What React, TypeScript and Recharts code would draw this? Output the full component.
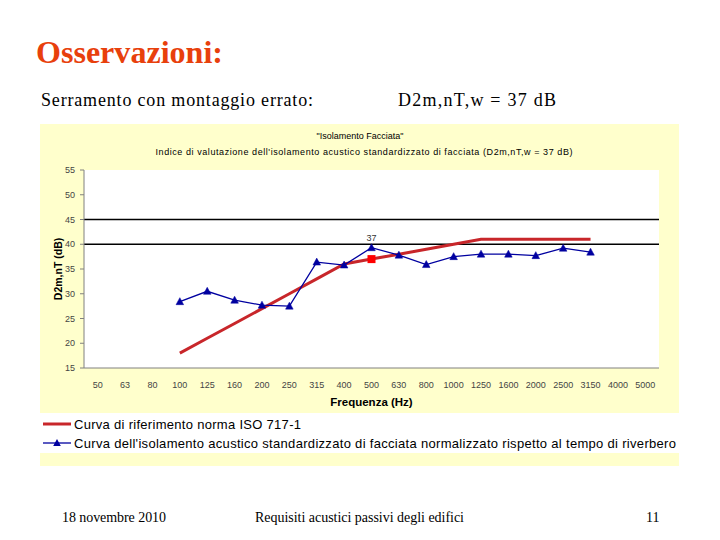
import React from 'react';
import {
  ComposedChart,
  Line,
  XAxis,
  YAxis,
  ReferenceLine,
  CartesianGrid,
  LabelList,
} from 'recharts';

// ---- Data ----
const frequencies = ['50', '63', '80', '100', '125', '160', '200', '250', '315', '400', '500', '630', '800', '1000', '1250', '1600', '2000', '2500', '3150', '4000', '5000'];
const referenceCurve = [null, null, null, 18, 21, 24, 27, 30, 33, 36, 37, 38, 39, 40, 41, 41, 41, 41, 41, null, null];
const measuredCurve = [null, null, null, 28.4, 30.5, 28.7, 27.7, 27.5, 36.4, 35.8, 39.3, 37.8, 35.9, 37.5, 38.0, 38.0, 37.7, 39.2, 38.4, null, null];
const ratingMarker = [null, null, null, null, null, null, null, null, null, null, 37, null, null, null, null, null, null, null, null, null, null];
const yTicks = [15, 20, 25, 30, 35, 40, 45, 50, 55];
const horizontalLines = [40, 45];

const data = frequencies.map((f, i) => ({
  freq: f,
  ref: referenceCurve[i],
  meas: measuredCurve[i],
  mark: ratingMarker[i],
}));

const BLUE = '#0000A0';
const RED = '#C8262A';

const TriangleDot = (props: any) => {
  const { cx, cy, value } = props;
  if (value == null || cx == null || cy == null) return null;
  return (
    <polygon
      key={`t-${cx}`}
      points={`${cx},${cy - 4} ${cx - 3.8},${cy + 3} ${cx + 3.8},${cy + 3}`}
      fill={BLUE}
      stroke={BLUE}
      strokeWidth={0.5}
    />
  );
};

const SquareDot = (props: any) => {
  const { cx, cy, value } = props;
  if (value == null || cx == null || cy == null) return null;
  return <rect key={`s-${cx}`} x={cx - 4} y={cy - 4} width={8} height={8} fill="#FF0000" />;
};

const tickStyle = { fontSize: 9, fill: '#444', fontFamily: 'Arial, "Liberation Sans", sans-serif' };

export default function App() {
  return (
    <div style={{ position: 'absolute', left: 0, top: 0, width: 720, height: 540, background: '#fff', overflow: 'hidden' }}>
      {/* Chart box */}
      <div style={{ position: 'absolute', left: 40, top: 124, width: 639, height: 342, background: '#FFFFCC' }}>
        <ComposedChart
          width={639}
          height={342}
          data={data}
          margin={{ top: 46, right: 20, left: 14, bottom: 58 }}
        >
          <CartesianGrid horizontal={false} vertical={false} fill="#FFFFFF" />
          <XAxis
            dataKey="freq"
            height={40}
            padding={{ left: 13.7, right: 13.7 }}
            tick={tickStyle}
            tickLine={false}
            tickMargin={8}
            axisLine={{ stroke: '#808080' }}
            interval={0}
            label={{
              content: (p: any) => {
                const vb = p.viewBox || {};
                return (
                  <text
                    x={vb.x + vb.width / 2}
                    y={vb.y + 38}
                    textAnchor="middle"
                    fontSize={11.5}
                    fontWeight="bold"
                    fontFamily='Arial, "Liberation Sans", sans-serif'
                    fill="#000"
                  >
                    Frequenza (Hz)
                  </text>
                );
              },
            }}
          />
          <YAxis
            yAxisId="left"
            width={30}
            domain={[15, 55]}
            ticks={yTicks}
            tick={tickStyle}
            tickSize={4}
            tickMargin={5}
            tickLine={{ stroke: '#808080' }}
            axisLine={{ stroke: '#808080' }}
            label={{
              content: (p: any) => {
                const vb = p.viewBox || {};
                const x = vb.x + 4;
                const y = vb.y + vb.height / 2;
                return (
                  <text
                    x={x}
                    y={y}
                    transform={`rotate(-90, ${x}, ${y})`}
                    textAnchor="middle"
                    dominantBaseline="central"
                    fontSize={10.5}
                    fontWeight="bold"
                    fontFamily='Arial, "Liberation Sans", sans-serif'
                    fill="#000"
                  >
                    D2m,nT (dB)
                  </text>
                );
              },
            }}
          />
          <YAxis
            yAxisId="right"
            orientation="right"
            width={0}
            domain={[15, 55]}
            tick={false}
            tickLine={false}
            axisLine={{ stroke: '#808080' }}
          />
          {horizontalLines.map((v) => (
            <ReferenceLine key={v} yAxisId="left" y={v} stroke="#000" strokeWidth={1.5} />
          ))}
          <Line
            yAxisId="left"
            dataKey="ref"
            stroke={RED}
            strokeWidth={3}
            dot={false}
            activeDot={false}
            isAnimationActive={false}
          />
          <Line
            yAxisId="left"
            dataKey="meas"
            stroke={BLUE}
            strokeWidth={1.3}
            dot={<TriangleDot />}
            activeDot={false}
            isAnimationActive={false}
          />
          <Line
            yAxisId="left"
            dataKey="mark"
            stroke="none"
            dot={<SquareDot />}
            activeDot={false}
            isAnimationActive={false}
          >
            <LabelList
              dataKey="mark"
              position="top"
              offset={18}
              style={{ fontSize: 9, fill: '#333', fontFamily: 'Arial, "Liberation Sans", sans-serif' }}
            />
          </Line>
        </ComposedChart>
      </div>

      {/* Text overlay */}
      <svg width={720} height={540} style={{ position: 'absolute', left: 0, top: 0, pointerEvents: 'none' }}>
        <text x={36} y={63} fontFamily='"Liberation Serif", "Times New Roman", serif' fontWeight="bold" fontSize={31} fill="#E8400C" textLength={187} lengthAdjust="spacingAndGlyphs">
          Osservazioni:
        </text>
        <text x={41} y={106} fontFamily='"Liberation Serif", "Times New Roman", serif' fontSize={18} fill="#000" textLength={272} lengthAdjust="spacing">
          Serramento con montaggio errato:
        </text>
        <text x={398} y={106} fontFamily='"Liberation Serif", "Times New Roman", serif' fontSize={18} fill="#000" textLength={158} lengthAdjust="spacing">
          D2m,nT,w = 37 dB
        </text>

        {/* chart titles */}
        <text x={360} y={139} textAnchor="middle" fontFamily='Arial, "Liberation Sans", sans-serif' fontSize={9} fill="#000">
          "Isolamento Facciata"
        </text>
        <text x={364} y={155} textAnchor="middle" fontFamily='Arial, "Liberation Sans", sans-serif' fontSize={9} fill="#000" textLength={417} lengthAdjust="spacing">
          Indice di valutazione dell'isolamento acustico standardizzato di facciata (D2m,nT,w =  37 dB)
        </text>

        {/* legend */}
        <rect x={40} y={413} width={639} height={40} fill="#FFFFFF" />
        <line x1={43} y1={424} x2={71} y2={424} stroke={RED} strokeWidth={3} />
        <text x={74} y={428.5} fontFamily='Arial, "Liberation Sans", sans-serif' fontSize={13} fill="#000" textLength={227} lengthAdjust="spacing">
          Curva di riferimento norma ISO 717-1
        </text>
        <line x1={43} y1={443} x2={71} y2={443} stroke={BLUE} strokeWidth={1.3} />
        <polygon points="57,439 53.2,446 60.8,446" fill={BLUE} />
        <text x={74} y={447.5} fontFamily='Arial, "Liberation Sans", sans-serif' fontSize={13} fill="#000" textLength={602} lengthAdjust="spacing">
          Curva dell'isolamento acustico standardizzato di facciata normalizzato rispetto al tempo di riverbero
        </text>

        {/* footer */}
        <text x={62} y={522} fontFamily='"Liberation Serif", "Times New Roman", serif' fontSize={14} fill="#000" textLength={104} lengthAdjust="spacing">
          18 novembre 2010
        </text>
        <text x={255} y={522} fontFamily='"Liberation Serif", "Times New Roman", serif' fontSize={14} fill="#000" textLength={209} lengthAdjust="spacing">
          Requisiti acustici passivi degli edifici
        </text>
        <text x={646} y={522} fontFamily='"Liberation Serif", "Times New Roman", serif' fontSize={14} fill="#000">
          11
        </text>
      </svg>
    </div>
  );
}
